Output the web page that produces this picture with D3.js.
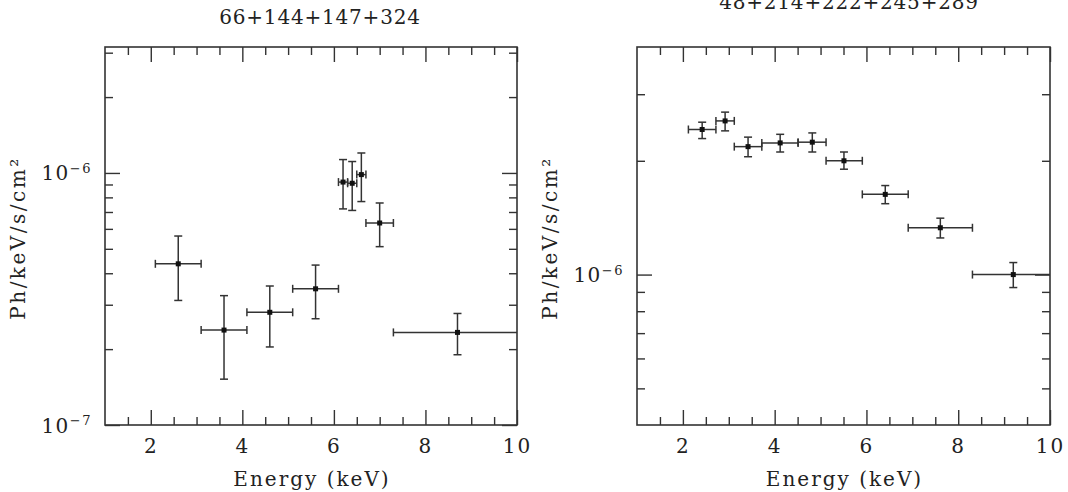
<!DOCTYPE html>
<html>
<head>
<meta charset="utf-8">
<script src="https://cdn.jsdelivr.net/npm/d3@7"></script>
<style>
  body { margin: 0; background: #fff; }
  text { font-family: "DejaVu Serif", serif; fill: #222; }
</style>
</head>
<body>
<div id="wrapper"></div>
<script>
// left panel: 66+144+147+324
const leftTitle = "66+144+147+324";
const leftE    = [2.6, 3.6, 4.6, 5.6, 6.2, 6.4, 6.6, 7.0, 8.7];
const leftElo  = [2.1, 3.1, 4.1, 5.1, 6.1, 6.3, 6.5, 6.7, 7.3];
const leftEhi  = [3.1, 4.1, 5.1, 6.1, 6.3, 6.5, 6.7, 7.3, 10.2];
const leftF    = [4.36e-7, 2.38e-7, 2.80e-7, 3.47e-7, 9.2e-7, 9.1e-7, 9.85e-7, 6.33e-7, 2.33e-7];
const leftFlo  = [3.12e-7, 1.52e-7, 2.04e-7, 2.64e-7, 7.2e-7, 7.1e-7, 7.7e-7, 5.1e-7, 1.9e-7];
const leftFhi  = [5.62e-7, 3.26e-7, 3.56e-7, 4.31e-7, 1.13e-6, 1.11e-6, 1.2e-6, 7.6e-7, 2.77e-7];

// right panel: 48+214+222+245+289
const rightTitle = "48+214+222+245+289";
const rightE   = [2.42, 2.92, 3.42, 4.12, 4.82, 5.51, 6.41, 7.61, 9.2];
const rightElo = [2.12, 2.72, 3.12, 3.72, 4.51, 5.12, 5.91, 6.91, 8.31];
const rightEhi = [2.72, 3.12, 3.72, 4.51, 5.12, 5.91, 6.91, 8.31, 10.2];
const rightF   = [2.42e-6, 2.55e-6, 2.18e-6, 2.23e-6, 2.24e-6, 2.0e-6, 1.63e-6, 1.33e-6, 1.0e-6];
const rightFlo = [2.29e-6, 2.40e-6, 2.05e-6, 2.11e-6, 2.11e-6, 1.9e-6, 1.54e-6, 1.25e-6, 9.24e-7];
const rightFhi = [2.53e-6, 2.69e-6, 2.31e-6, 2.35e-6, 2.37e-6, 2.11e-6, 1.72e-6, 1.41e-6, 1.076e-6];

// axis ticks
const xMajor = [2, 4, 6, 8, 10];
const xMinor = [1.5, 2.5, 3, 3.5, 4.5, 5, 5.5, 6.5, 7, 7.5, 8.5, 9, 9.5];
const leftYMajor = [1e-7, 1e-6];
const leftYMinor = [2e-7, 3e-7, 4e-7, 5e-7, 6e-7, 7e-7, 8e-7, 9e-7, 2e-6, 3e-6];
const rightYMajor = [1e-6];
const rightYMinor = [5e-7, 6e-7, 7e-7, 8e-7, 9e-7, 2e-6, 3e-6];

const xLabel = "Energy (keV)";
const yLabel = "Ph/keV/s/cm²";

const svg = d3.select("#wrapper")
    .append("svg")
    .attr("width", 1068)
    .attr("height", 492);

function drawPanel(opt) {
    const x = d3.scaleLinear().domain([1, 10]).range([opt.left, opt.right]);
    const y = d3.scaleLog().domain(opt.yDomain).range([425, 47]);
    const top = 47, bottom = 425;

    const g = svg.append("g");
    const clipId = "clip" + opt.left;
    g.append("clipPath").attr("id", clipId)
        .append("rect")
        .attr("x", opt.left).attr("y", top)
        .attr("width", opt.right - opt.left).attr("height", bottom - top);

    // ticks on all four sides (pointing inward)
    const tickGroup = (axis, tr) => {
        const a = g.append("g").attr("transform", tr).call(axis);
        a.select(".domain").remove();
        a.selectAll("line").attr("stroke", "#333").attr("stroke-width", 1.4);
        return a;
    };
    const xb = tickGroup(d3.axisBottom(x).tickValues(xMajor).tickSizeInner(-15).tickSizeOuter(0).tickPadding(14).tickFormat(d3.format("d")),
        `translate(0,${bottom})`);
    xb.selectAll("text").attr("font-size", 20).attr("letter-spacing", 2).attr("fill", "#222");
    tickGroup(d3.axisBottom(x).tickValues(xMinor).tickSizeInner(-8).tickSizeOuter(0).tickFormat(""), `translate(0,${bottom})`);
    tickGroup(d3.axisTop(x).tickValues(xMajor).tickSizeInner(-15).tickSizeOuter(0).tickFormat(""), `translate(0,${top})`);
    tickGroup(d3.axisTop(x).tickValues(xMinor).tickSizeInner(-8).tickSizeOuter(0).tickFormat(""), `translate(0,${top})`);

    const yl = tickGroup(d3.axisLeft(y).tickValues(opt.yMajor).tickSizeInner(-15).tickSizeOuter(0).tickPadding(12).tickFormat(""),
        `translate(${opt.left},0)`);
    yl.selectAll(".tick").append("text")
        .attr("x", -13).attr("dy", "0.35em")
        .attr("text-anchor", "end")
        .attr("font-size", 20)
        .attr("letter-spacing", 1.5)
        .attr("fill", "#222")
        .each(function (d) {
            const t = d3.select(this);
            t.append("tspan").text("10");
            t.append("tspan").attr("font-size", 13).attr("dy", "-0.55em")
                .text("−" + Math.round(-Math.log10(d)));
        });
    tickGroup(d3.axisLeft(y).tickValues(opt.yMinor).tickSizeInner(-8).tickSizeOuter(0).tickFormat(""), `translate(${opt.left},0)`);
    tickGroup(d3.axisRight(y).tickValues(opt.yMajor).tickSizeInner(-15).tickSizeOuter(0).tickFormat(""), `translate(${opt.right},0)`);
    tickGroup(d3.axisRight(y).tickValues(opt.yMinor).tickSizeInner(-8).tickSizeOuter(0).tickFormat(""), `translate(${opt.right},0)`);

    // frame
    g.append("rect")
        .attr("x", opt.left).attr("y", top)
        .attr("width", opt.right - opt.left).attr("height", bottom - top)
        .attr("fill", "none").attr("stroke", "#333").attr("stroke-width", 1.6);

    // data with error bars
    const data = opt.e.map((e, i) => ({
        e: e, elo: opt.elo[i], ehi: opt.ehi[i],
        f: opt.f[i], flo: opt.flo[i], fhi: opt.fhi[i]
    }));
    const pts = g.append("g").attr("clip-path", `url(#${clipId})`)
        .selectAll("g").data(data).enter().append("g")
        .attr("stroke", "#333").attr("stroke-width", 1.5);
    const cap = 4;
    pts.append("line")
        .attr("x1", d => x(d.elo)).attr("x2", d => x(d.ehi))
        .attr("y1", d => y(d.f)).attr("y2", d => y(d.f));
    pts.append("line")
        .attr("x1", d => x(d.e)).attr("x2", d => x(d.e))
        .attr("y1", d => y(d.flo)).attr("y2", d => y(d.fhi));
    pts.append("line")
        .attr("x1", d => x(d.elo)).attr("x2", d => x(d.elo))
        .attr("y1", d => y(d.f) - cap).attr("y2", d => y(d.f) + cap);
    pts.append("line")
        .attr("x1", d => x(d.ehi)).attr("x2", d => x(d.ehi))
        .attr("y1", d => y(d.f) - cap).attr("y2", d => y(d.f) + cap);
    pts.append("line")
        .attr("x1", d => x(d.e) - cap).attr("x2", d => x(d.e) + cap)
        .attr("y1", d => y(d.flo)).attr("y2", d => y(d.flo));
    pts.append("line")
        .attr("x1", d => x(d.e) - cap).attr("x2", d => x(d.e) + cap)
        .attr("y1", d => y(d.fhi)).attr("y2", d => y(d.fhi));
    pts.append("rect")
        .attr("x", d => x(d.e) - 2.5).attr("y", d => y(d.f) - 2.5)
        .attr("width", 5).attr("height", 5)
        .attr("fill", "#111").attr("stroke", "none");

    // labels
    const cx = (opt.left + opt.right) / 2;
    svg.append("text")
        .attr("x", cx + 1).attr("y", 486)
        .attr("text-anchor", "middle")
        .attr("font-size", 20).attr("letter-spacing", 2)
        .text(xLabel);
    svg.append("text")
        .attr("transform", `translate(${opt.yLabelX},238) rotate(-90)`)
        .attr("text-anchor", "middle")
        .attr("font-size", 20).attr("letter-spacing", 2.5)
        .text(yLabel);
    svg.append("text")
        .attr("x", opt.titleX).attr("y", opt.titleY)
        .attr("text-anchor", "middle")
        .attr("font-size", 20).attr("letter-spacing", 0.8)
        .text(opt.title);
}

drawPanel({
    left: 105, right: 517, yDomain: [1e-7, 3.16e-6],
    yMajor: leftYMajor, yMinor: leftYMinor,
    e: leftE, elo: leftElo, ehi: leftEhi, f: leftF, flo: leftFlo, fhi: leftFhi,
    title: leftTitle, titleX: 320, titleY: 24, yLabelX: 25
});
drawPanel({
    left: 637, right: 1050, yDomain: [4e-7, 4e-6],
    yMajor: rightYMajor, yMinor: rightYMinor,
    e: rightE, elo: rightElo, ehi: rightEhi, f: rightF, flo: rightFlo, fhi: rightFhi,
    title: rightTitle, titleX: 849, titleY: 9, yLabelX: 557
});
</script>
</body>
</html>
